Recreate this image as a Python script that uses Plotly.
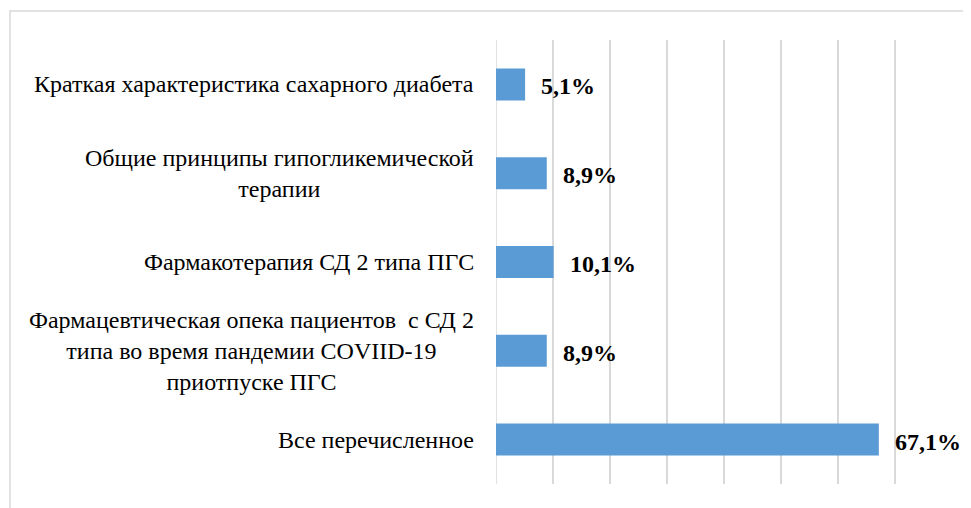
import plotly.graph_objects as go

categories = [
    "Краткая характеристика сахарного диабета",
    "Общие принципы гипогликемической<br>терапии",
    "Фармакотерапия СД 2 типа ПГС",
    "Фармацевтическая опека пациентов  с СД 2<br>типа во время пандемии COVIID-19<br>приотпуске ПГС",
    "Все перечисленное",
]
values = [5.1, 8.9, 10.1, 8.9, 67.1]
value_labels = [f"{v:.1f}".replace(".", ",") + "%" for v in values]
x_ticks = [0, 10, 20, 30, 40, 50, 60, 70, 80]

FONT = "Liberation Serif"

fig = go.Figure()
fig.add_trace(go.Bar(
    y=categories,
    x=values,
    orientation="h",
    width=0.36,
    marker=dict(color="#5b9bd5", line=dict(width=0)),
    hoverinfo="skip",
))

annotations = []
for c in categories:
    annotations.append(dict(
        x=0, y=c, xref="x", yref="y",
        text=c, showarrow=False, xanchor="right", yanchor="middle",
        align="center", xshift=-20,
        font=dict(family=FONT, size=24, color="black"),
    ))
for c, v, t in zip(categories, values, value_labels):
    annotations.append(dict(
        x=v, y=c, xref="x", yref="y",
        text=f"<b>{t}</b>", showarrow=False, xanchor="left", yanchor="middle",
        xshift=14, yshift=-2,
        font=dict(family=FONT, size=24, color="black"),
    ))

PW, PH = 457, 444
fig.update_layout(
    width=963, height=500,
    margin=dict(l=488, r=18, t=32, b=24),
    paper_bgcolor="white", plot_bgcolor="white",
    showlegend=False,
    annotations=annotations,
    font=dict(family=FONT, size=24, color="black"),
    xaxis=dict(
        range=[0, 80.1], tickvals=x_ticks, showticklabels=False,
        showgrid=True, gridcolor="#d9d9d9", gridwidth=1.5,
        zeroline=False, showline=False, fixedrange=True,
    ),
    yaxis=dict(
        autorange="reversed", showticklabels=False, showgrid=False,
        zeroline=False, showline=False, fixedrange=True,
    ),
    shapes=[
        dict(type="rect", xref="paper", yref="paper",
             x0=(2 - 488) / PW, x1=(990 - 488) / PW, y0=-0.2, y1=1 + (32 - 3) / PH,
             line=dict(color="#d9d9d9", width=1.5), fillcolor="rgba(0,0,0,0)",
             layer="below"),
        dict(type="line", xref="x", yref="paper", x0=x_ticks[0], x1=x_ticks[0],
             y0=0, y1=1, line=dict(color="#d9d9d9", width=1.5), layer="below"),
    ],
)

fig.write_html("out.html")
